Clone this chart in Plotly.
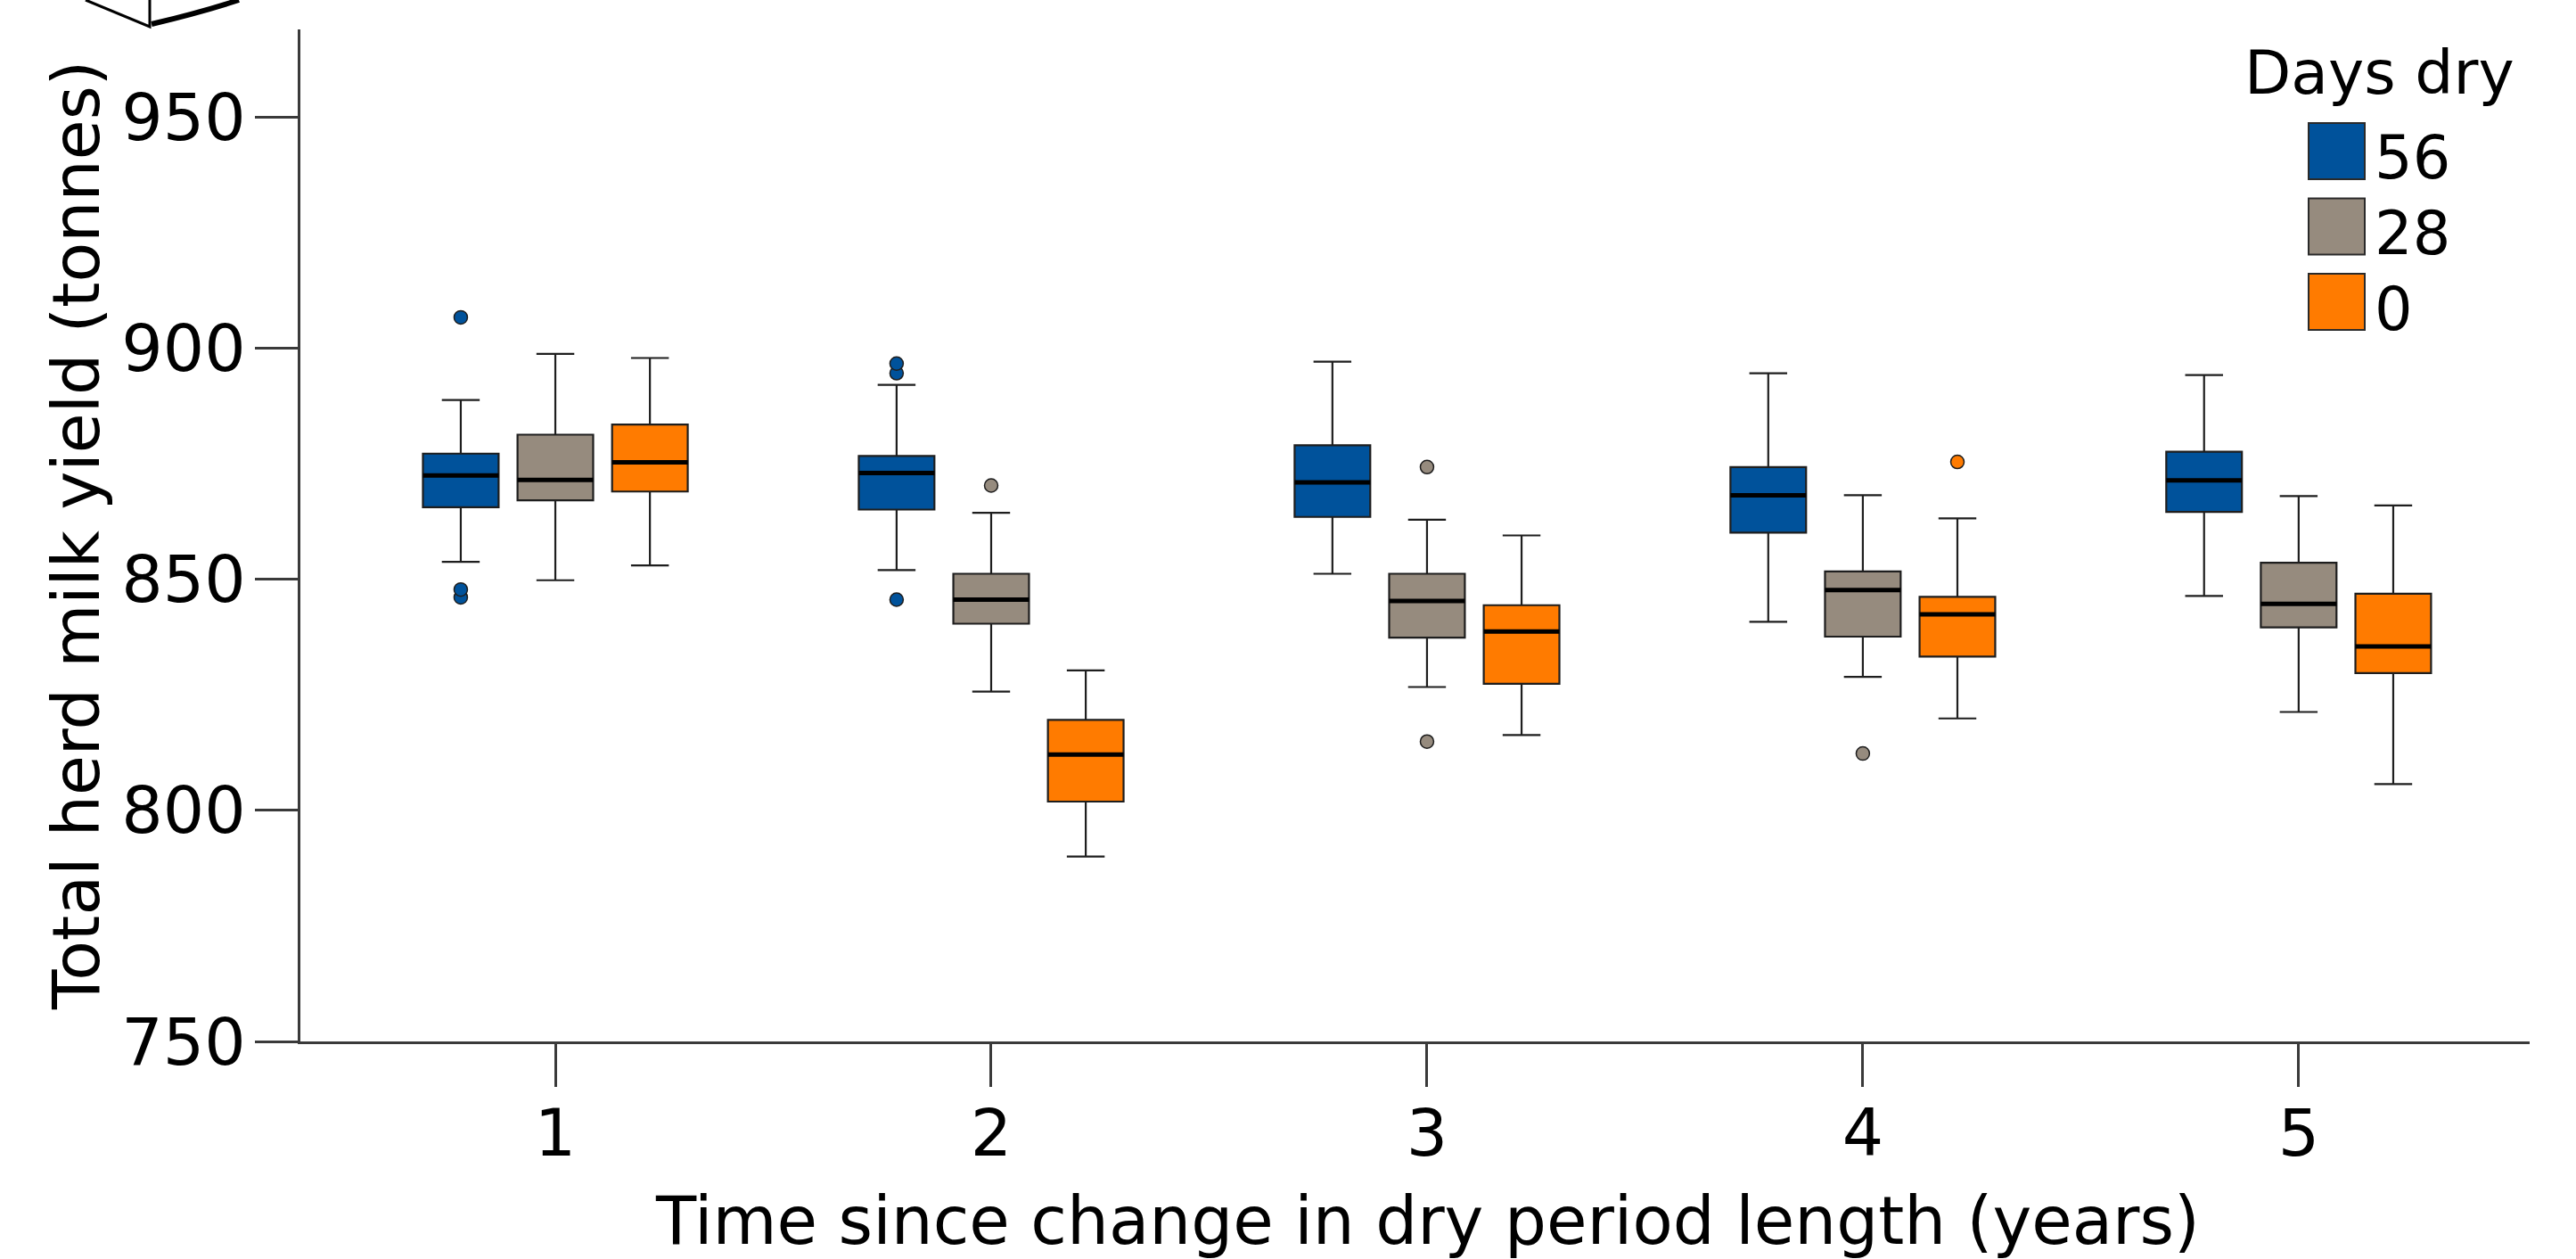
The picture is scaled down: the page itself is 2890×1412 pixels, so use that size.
import plotly.graph_objects as go

# ---------------- data ----------------
years = [1, 2, 3, 4, 5]
year_labels = ["1", "2", "3", "4", "5"]
series = ["56", "28", "0"]
colors = {"56": "#00529b", "28": "#968b7e", "0": "#ff7b00"}

q1_56 = [865.6, 865.1, 863.5, 860.1, 864.6]
med_56 = [872.5, 873.0, 871.0, 868.2, 871.4]
q3_56 = [877.2, 876.7, 879.0, 874.3, 877.6]
lo_56 = [853.8, 852.0, 851.2, 840.8, 846.4]
hi_56 = [888.8, 892.1, 897.1, 894.6, 894.2]
out_56 = [[906.7, 847.8, 846.1], [896.7, 894.6, 845.6], [], [], []]

q1_28 = [867.1, 840.4, 837.4, 837.6, 839.6]
med_28 = [871.5, 845.6, 845.3, 847.7, 844.7]
q3_28 = [881.3, 851.2, 851.2, 851.7, 853.6]
lo_28 = [849.8, 825.7, 826.7, 828.9, 821.3]
hi_28 = [898.8, 864.4, 862.9, 868.2, 868.0]
out_28 = [[], [870.3], [874.3, 814.9], [812.3], []]

q1_0 = [869.0, 801.9, 827.4, 833.3, 829.7]
med_0 = [875.3, 812.1, 838.7, 842.4, 835.5]
q3_0 = [883.5, 819.6, 844.4, 846.2, 846.9]
lo_0 = [853.0, 790.0, 816.3, 819.9, 805.7]
hi_0 = [897.9, 830.3, 859.5, 863.2, 866.0]
out_0 = [[], [], [], [875.4], []]

y_ticks = [750, 800, 850, 900, 950]

stats = {
    "56": (q1_56, med_56, q3_56, lo_56, hi_56, out_56),
    "28": (q1_28, med_28, q3_28, lo_28, hi_28, out_28),
    "0": (q1_0, med_0, q3_0, lo_0, hi_0, out_0),
}

FONT = "DejaVu Sans"
EDGE = "#1e1e1e"
AXC = "#3a3a3a"

fig = go.Figure()
for s in series:
    q1, med, q3, lo, hi, outs = stats[s]
    # sample points per box: the median (inside the fences, never drawn) plus the outliers
    samples = [[m] + list(o) for m, o in zip(med, outs)]
    fig.add_trace(go.Box(
        x=years, y=samples, q1=q1, median=med, q3=q3,
        lowerfence=lo, upperfence=hi,
        name=s, offsetgroup=s, alignmentgroup="g",
        fillcolor=colors[s], line=dict(color=EDGE, width=2.2),
        whiskerwidth=0.5, boxpoints="outliers", jitter=0, pointpos=0,
        marker=dict(color=colors[s], size=15, line=dict(color=EDGE, width=1.5)),
        showlegend=False,
    ))
    # thick median overlay
    fig.add_trace(go.Box(
        x=years, q1=med, median=med, q3=med, lowerfence=med, upperfence=med,
        name=s + " median", offsetgroup=s, alignmentgroup="g",
        fillcolor="rgba(0,0,0,0)", line=dict(color="black", width=5),
        whiskerwidth=0, boxpoints=False, showlegend=False, hoverinfo="skip",
    ))

# ---- layout geometry (pixels -> paper) ----
W, H = 2890, 1412
L, R, T, B = 337, 52, 33, 244
pw, ph = W - L - R, H - T - B


def px(xp):
    return (xp - L) / pw


def py(yp):
    return (H - B - yp) / ph


shapes = []
annotations = []

# manual legend
sq = 63
pitch = 84.5
top0 = 138
for i, s in enumerate(series):
    y_top = top0 + i * pitch
    shapes.append(dict(type="rect", xref="paper", yref="paper",
                       x0=px(2590), x1=px(2590 + sq), y0=py(y_top + sq), y1=py(y_top),
                       fillcolor=colors[s], line=dict(color="#2a2a2a", width=2)))
    annotations.append(dict(text=s, xref="paper", yref="paper", x=px(2662), y=py(y_top + sq / 2 + 8),
                            xanchor="left", yanchor="middle", showarrow=False,
                            font=dict(family=FONT, size=67, color="black")))
annotations.append(dict(text="Days dry", xref="paper", yref="paper", x=px(2669), y=py(81),
                        xanchor="center", yanchor="middle", showarrow=False,
                        font=dict(family=FONT, size=68, color="black")))

# axis titles
annotations.append(dict(text="Time since change in dry period length (years)", xref="paper", yref="paper",
                        x=px(1601), y=py(1369), xanchor="center", yanchor="middle", showarrow=False,
                        font=dict(family=FONT, size=74, color="black")))
annotations.append(dict(text="Total herd milk yield (tonnes)", xref="paper", yref="paper",
                        x=px(86), y=py(601), xanchor="center", yanchor="middle", textangle=-90,
                        showarrow=False, font=dict(family=FONT, size=73, color="black")))

# cropped decoration in the top-left corner
shapes.append(dict(type="path", xref="paper", yref="paper",
                   path=f"M {px(96)},{py(0)} L {px(168)},{py(30)} L {px(168)},{py(0)}",
                   line=dict(color="black", width=3)))
shapes.append(dict(type="path", xref="paper", yref="paper",
                   path=f"M {px(170)},{py(27)} Q {px(225)},{py(14)} {px(268)},{py(0)}",
                   line=dict(color="black", width=6)))

fig.update_layout(
    width=W, height=H,
    margin=dict(l=L, r=R, t=T, b=B, pad=0),
    paper_bgcolor="white", plot_bgcolor="white",
    boxmode="group", boxgap=0.349, boxgroupgap=0.2,
    font=dict(family=FONT, size=73, color="black"),
    shapes=shapes, annotations=annotations,
    showlegend=False,
)
fig.update_xaxes(range=[0.415, 5.53], tickmode="array", tickvals=years, ticktext=year_labels,
                 ticks="outside", ticklen=48, tickwidth=2.5, tickcolor=AXC,
                 showline=True, linecolor=AXC, linewidth=2.5, showgrid=False, zeroline=False,
                 ticklabelstandoff=-10,
                 tickfont=dict(family=FONT, size=73, color="black"))
fig.update_yaxes(range=[750, 969], tickmode="array", tickvals=y_ticks,
                 ticks="outside", ticklen=48, tickwidth=2.5, tickcolor=AXC,
                 showline=True, linecolor=AXC, linewidth=2.5, showgrid=False, zeroline=False,
                 ticklabelstandoff=-4,
                 tickfont=dict(family=FONT, size=73, color="black"))

fig.write_html(
    "out.html",
    config={"displayModeBar": False},
    post_script="document.body.style.margin='0';document.body.style.overflow='hidden';",
)
